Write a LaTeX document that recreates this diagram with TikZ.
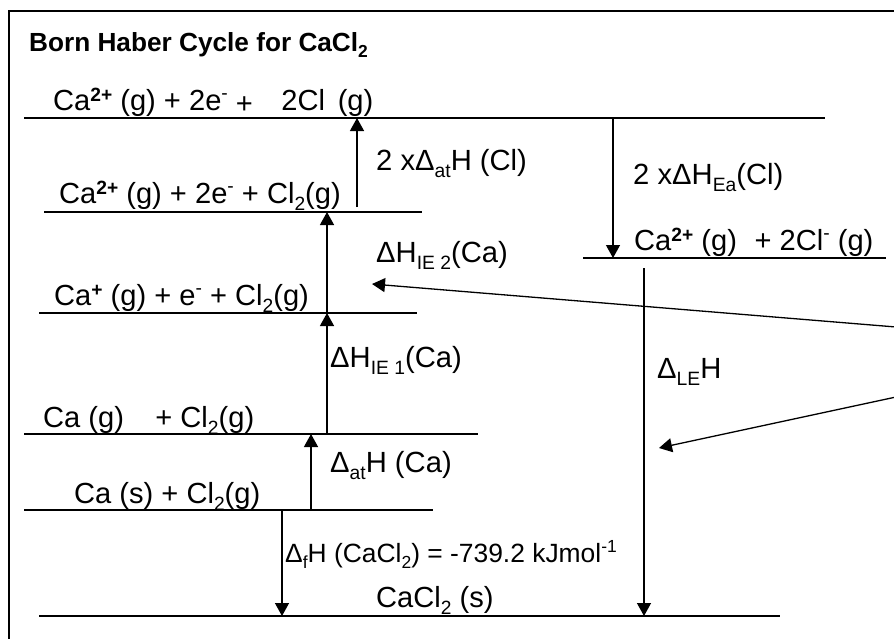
\documentclass[tikz,border=0pt]{standalone}
\usepackage{fontspec}
\setmainfont{Liberation Sans}
\usetikzlibrary{arrows.meta}
\def\subsz{19}
\newcommand\myup[1]{\raisebox{0.36em}{\fontsize{\subsz}{\subsz}\selectfont #1}}
\newcommand\myupb[1]{\raisebox{0.30em}{\fontsize{\subsz}{\subsz}\selectfont\bfseries #1}}
\newcommand\mydn[1]{\raisebox{-0.26em}{\fontsize{\subsz}{\subsz}\selectfont #1}}
\begin{document}
\begin{tikzpicture}[x=1pt,y=-1pt,
  frameline/.style={line width=2.2pt},
  lvlthin/.style={line width=1.4pt},
  lvlmid/.style={line width=1.9pt},
  lvlthick/.style={line width=2.6pt},
  arr/.style={line width=1.3pt,-{Triangle[length=13pt,width=14pt]}},
  txt/.style={anchor=base west,inner sep=0pt,font=\fontsize{29.1}{31}\selectfont\def\subsz{19.2}},
  lab/.style={anchor=base west,inner sep=0pt,font=\fontsize{29.2}{31}\selectfont\def\subsz{19.3}},
  labsm/.style={anchor=base west,inner sep=0pt,font=\fontsize{26.4}{28}\selectfont\def\subsz{17.5}},
  ttl/.style={anchor=base west,inner sep=0pt,font=\fontsize{26.2}{28}\selectfont\bfseries\def\subsz{17.4}}]
\useasboundingbox (0,0) rectangle (894,638);
\fill[white] (0,0) rectangle (894,638);
% frame
\draw[frameline] (9,640) -- (9,11) -- (896,11);
% levels
\draw[lvlthin]  (24,118) -- (825,118);
\draw[lvlmid]   (44,212) -- (422,212);
\draw[lvlmid]   (39,313) -- (417,313);
\draw[lvlthick] (24,434) -- (478,434);
\draw[lvlmid]   (24,510) -- (433,510);
\draw[lvlmid]   (39,616) -- (780,616);
\draw[lvlthick] (583,258) -- (886,258);
% texts
\node[ttl] (title) at (29,51) {Born Haber Cycle for CaCl\mydn{2}};
\node[txt] (t1) at (53,110) {Ca\myupb{2+} (g) + 2e\myup{-} \raisebox{-0.12em}{+}\hspace{0.7em} 2Cl\hspace{0.16em} (g)};
\node[txt] (t2) at (59,203) {Ca\myupb{2+} (g) + 2e\myup{-} + Cl\mydn{2}(g)};
\node[txt] (t3) at (54,305) {Ca\myupb{+} (g) + e\myup{-} + Cl\mydn{2}(g)};
\node[txt] (t4) at (43,427) {Ca (g)\hspace{0.8em} + Cl\mydn{2}(g)};
\node[txt] (t5) at (74,503) {Ca (s) + Cl\mydn{2}(g)};
\node[txt] (t6) at (376,607) {CaCl\mydn{2} (s)};
\node[txt] (t7) at (634,250) {Ca\myupb{2+} (g)\hspace{0.33em} + 2Cl\myup{-} (g)};
% labels
\node[lab] (l1) at (376,170) {2 xΔ\mydn{at}H (Cl)};
\node[lab] (l2) at (376,262) {ΔH\mydn{IE 2}(Ca)};
\node[lab] (l3) at (330,367) {ΔH\mydn{IE 1}(Ca)};
\node[lab] (l4) at (330,472) {Δ\mydn{at}H (Ca)};
\node[labsm] (l5) at (285,562) {Δ\mydn{f}H (CaCl\mydn{2}) = -739.2 kJmol\myup{-1}};
\node[lab] (l6) at (633,184) {2 xΔH\mydn{Ea}(Cl)};
\node[lab] (l7) at (657,378) {Δ\mydn{LE}H};
% arrow end points
\coordinate (a1s) at (357,207); \coordinate (a1e) at (357,118);
\coordinate (a2s) at (327,313); \coordinate (a2e) at (327,212);
\coordinate (a3s) at (327,434); \coordinate (a3e) at (327,313);
\coordinate (a4s) at (311,510); \coordinate (a4e) at (311,434);
\coordinate (a5s) at (282,510); \coordinate (a5e) at (282,616);
\coordinate (a6s) at (613,118); \coordinate (a6e) at (613,258);
\coordinate (a7s) at (644,268); \coordinate (a7e) at (644,616);
\coordinate (c1s) at (896,327); \coordinate (c1e) at (372,284);
\coordinate (c2s) at (896,397); \coordinate (c2e) at (659,448);
\draw[arr] (a1s) -- (a1e);
\draw[arr] (a2s) -- (a2e);
\draw[arr] (a3s) -- (a3e);
\draw[arr] (a4s) -- (a4e);
\draw[arr] (a5s) -- (a5e);
\draw[arr] (a6s) -- (a6e);
\draw[arr] (a7s) -- (a7e);
\draw[arr] (c1s) -- (c1e);
\draw[arr] (c2s) -- (c2e);
\end{tikzpicture}
\end{document}
